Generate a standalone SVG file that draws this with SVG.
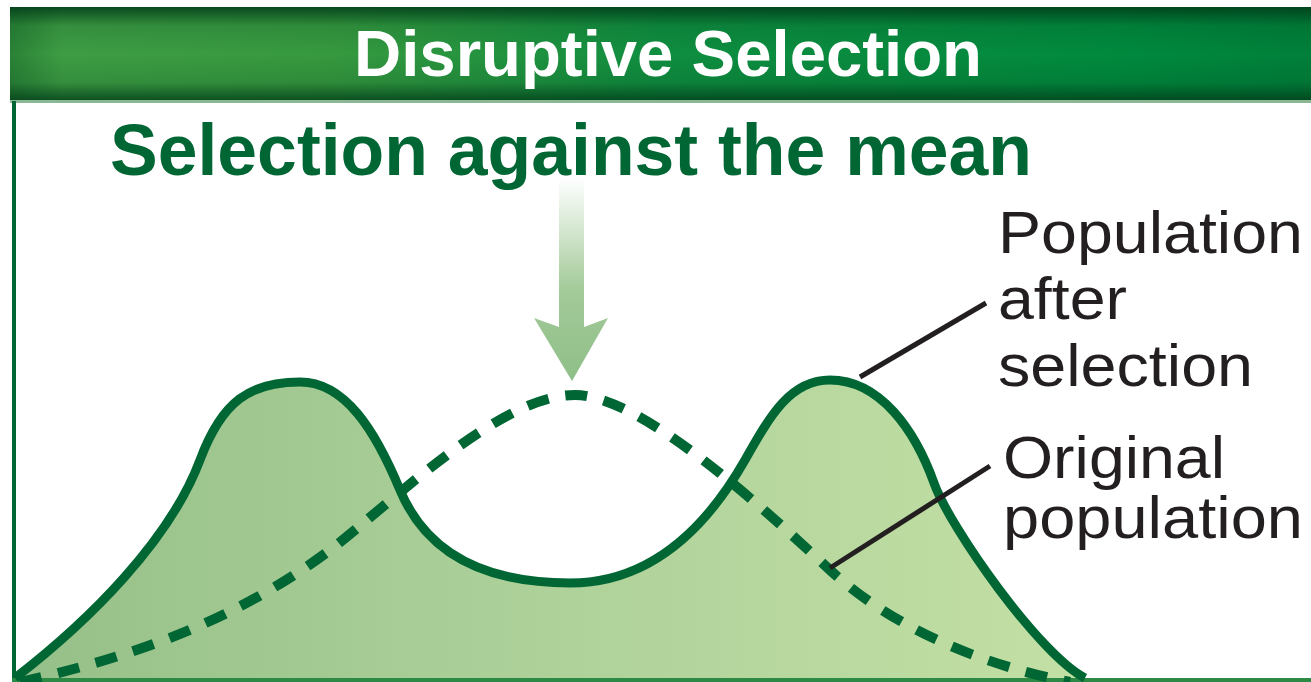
<svg xmlns="http://www.w3.org/2000/svg" width="1311" height="682" viewBox="0 0 1311 682">
  <defs>
    <linearGradient id="hdrH" x1="0" y1="0" x2="1" y2="0">
      <stop offset="0" stop-color="#2a8236"/>
      <stop offset="0.04" stop-color="#3e9d44"/>
      <stop offset="0.25" stop-color="#36993f"/>
      <stop offset="0.5" stop-color="#0f8e40"/>
      <stop offset="0.85" stop-color="#008a3e"/>
      <stop offset="1" stop-color="#00803a"/>
    </linearGradient>
    <linearGradient id="hdrV" x1="0" y1="0" x2="0" y2="1">
      <stop offset="0" stop-color="#003a18" stop-opacity="0.85"/>
      <stop offset="0.2" stop-color="#003a18" stop-opacity="0.15"/>
      <stop offset="0.5" stop-color="#003a18" stop-opacity="0"/>
      <stop offset="0.8" stop-color="#003a18" stop-opacity="0.15"/>
      <stop offset="1" stop-color="#003a18" stop-opacity="0.8"/>
    </linearGradient>
    <linearGradient id="fillG" x1="15" y1="0" x2="1085" y2="0" gradientUnits="userSpaceOnUse">
      <stop offset="0" stop-color="#96c089"/>
      <stop offset="0.5" stop-color="#aed19a"/>
      <stop offset="1" stop-color="#c3e0a5"/>
    </linearGradient>
    <linearGradient id="arrowG" x1="0" y1="178" x2="0" y2="381" gradientUnits="userSpaceOnUse">
      <stop offset="0" stop-color="#ffffff"/>
      <stop offset="0.55" stop-color="#a3ca99"/>
      <stop offset="1" stop-color="#8fbf88"/>
    </linearGradient>
    <style>
      .title{font-family:"Liberation Sans",Arial,sans-serif;font-weight:bold;}
      .lbl{font-family:"Liberation Sans",Arial,sans-serif;font-size:60px;fill:#231f20;}
      .leader{stroke:#231f20;stroke-width:5;fill:none;stroke-linecap:butt;}
      .curve{stroke:#006633;stroke-width:9;fill:none;}
      .dash{stroke:#006633;stroke-width:10;fill:none;stroke-dasharray:22 17;}
    </style>
  </defs>

  <rect x="0" y="0" width="1311" height="682" fill="#ffffff"/>

  <g id="header">
    <rect x="10" y="7" width="1301" height="94" fill="url(#hdrH)"/>
    <rect x="10" y="7" width="1301" height="94" fill="url(#hdrV)"/>
    <rect x="10" y="100" width="1301" height="3" fill="#8ab895"/>
    <text class="title" x="668" y="76" font-size="65" fill="#ffffff" text-anchor="middle" textLength="628" lengthAdjust="spacingAndGlyphs">Disruptive Selection</text>
  </g>

  <g id="frame">
    <line x1="14" y1="101" x2="14" y2="682" stroke="#006633" stroke-width="4"/>
    <line x1="12" y1="680" x2="1311" y2="680" stroke="#2d8a45" stroke-width="4"/>
  </g>

  <g id="subtitle">
    <text class="title" x="110" y="175" font-size="72" fill="#006633" textLength="922" lengthAdjust="spacingAndGlyphs">Selection against the mean</text>
  </g>

  <g id="after-selection-fill">
    <path d="M15,678 C90,620 170,540 200,460 C222,401 250,382 300,382 C345,382 375,430 400,490 C425,550 480,583 570,583 C650,583 705,530 745,460 C770,416 790,380 830,380 C880,380 915,430 934,483 C950,528 1040,655 1085,678 Z" fill="url(#fillG)"/>
  </g>

  <g id="original-population">
    <path class="dash" d="M20,682 C120,660 230,625 330,550 C395,500 500,395 575,395 C640,395 760,505 830,570 C890,626 980,665 1070,682"/>
  </g>

  <g id="population-after-selection">
    <path class="curve" d="M15,678 C90,620 170,540 200,460 C222,401 250,382 300,382 C345,382 375,430 400,490 C425,550 480,583 570,583 C650,583 705,530 745,460 C770,416 790,380 830,380 C880,380 915,430 934,483 C950,528 1040,655 1085,678"/>
  </g>

  <g id="arrow">
    <polygon points="559,178 584,178 584,327 608,318 572,381 534,318 559,327" fill="url(#arrowG)"/>
  </g>

  <g id="connectors">
    <line class="leader" x1="860" y1="377" x2="986" y2="303"/>
    <line class="leader" x1="830" y1="568" x2="990" y2="466"/>
  </g>

  <g id="label-after">
    <text class="lbl" x="998" y="253" textLength="305" lengthAdjust="spacingAndGlyphs">Population</text>
    <text class="lbl" x="998" y="319" textLength="129" lengthAdjust="spacingAndGlyphs">after</text>
    <text class="lbl" x="998" y="386" textLength="255" lengthAdjust="spacingAndGlyphs">selection</text>
  </g>

  <g id="label-original">
    <text class="lbl" x="1003" y="478" textLength="222" lengthAdjust="spacingAndGlyphs">Original</text>
    <text class="lbl" x="1003" y="538" textLength="300" lengthAdjust="spacingAndGlyphs">population</text>
  </g>
</svg>
